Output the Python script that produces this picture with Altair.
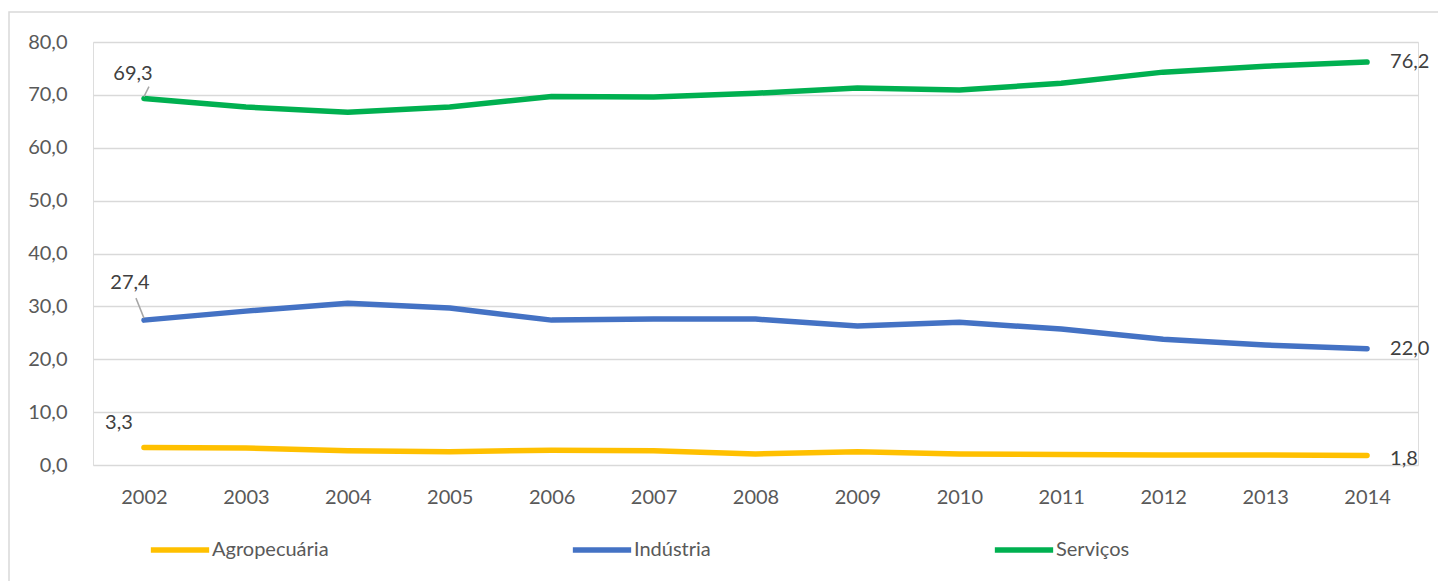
import altair as alt
import pandas as pd

years = [str(y) for y in range(2002, 2015)]
agro = [3.3, 3.2, 2.7, 2.5, 2.8, 2.7, 2.1, 2.5, 2.1, 2.0, 1.9, 1.9, 1.8]
industria = [27.4, 29.1, 30.6, 29.7, 27.4, 27.6, 27.6, 26.3, 27.0, 25.7, 23.8, 22.7, 22.0]
servicos = [69.3, 67.7, 66.7, 67.7, 69.7, 69.6, 70.3, 71.3, 70.9, 72.2, 74.3, 75.4, 76.2]
series = ["Agropecuária", "Indústria", "Serviços"]
colors = ["#FFC000", "#4472C4", "#00B050"]

rows = []
for name, vals in zip(series, [agro, industria, servicos]):
    for y, v in zip(years, vals):
        rows.append({"ano": y, "setor": name, "valor": v})
df = pd.DataFrame(rows)
df["rotulo"] = df["valor"].map(lambda v: f"{v:.1f}".replace(".", ","))

FONT = "Lato"
W, H = 1325, 423

xenc = alt.X("ano:O", scale=alt.Scale(type="point", padding=0.5),
             axis=alt.Axis(title=None, labelAngle=0, domain=False, ticks=False,
                           labelPadding=22, labelFontSize=20, labelColor="#595959",
                           labelFont=FONT, grid=False))
yenc = alt.Y("valor:Q", scale=alt.Scale(domain=[0, 80], nice=False),
             axis=alt.Axis(title=None, values=list(range(0, 81, 10)), domain=False, ticks=False,
                           labelPadding=26, labelFontSize=20, labelColor="#595959", labelFont=FONT,
                           labelExpr="replace(format(datum.value, '.1f'), '.', ',')",
                           gridColor="#D9D9D9", gridWidth=1.5))

base = alt.Chart(df)

frame = alt.Chart(pd.DataFrame({"a": [0]})).mark_rect(
    fill=None, stroke="#D9D9D9", strokeWidth=1.5
).encode(x=alt.value(-84), x2=alt.value(1350), y=alt.value(-30), y2=alt.value(545))

lines = base.mark_line(strokeWidth=5.5, strokeCap="round", strokeJoin="round").encode(
    x=xenc, y=yenc,
    color=alt.Color("setor:N", scale=alt.Scale(domain=series, range=colors),
                    legend=alt.Legend(title=None, orient="none", legendX=55, legendY=476,
                                      direction="horizontal", columns=3, gridAlign="all",
                                      columnPadding=232, symbolType="stroke",
                                      symbolSize=3400, symbolStrokeWidth=5.5,
                                      labelFontSize=20, labelFont=FONT, labelColor="#595959",
                                      labelOffset=0, labelLimit=300)),
)

def lbl(setor, ano, dx, dy, align="center"):
    return base.transform_filter(
        (alt.datum.setor == setor) & (alt.datum.ano == ano)
    ).mark_text(dx=dx, dy=dy, align=align, baseline="middle", fontSize=20,
                font=FONT, color="#404040").encode(x="ano:O", y="valor:Q", text="rotulo:N")

def leader(setor, ano, xo, yo):
    return base.transform_filter(
        (alt.datum.setor == setor) & (alt.datum.ano == ano)
    ).mark_rule(color="#A6A6A6", strokeWidth=1.5, xOffset=xo, yOffset=yo,
                x2Offset=0, y2Offset=-2).encode(x="ano:O", x2="ano:O", y="valor:Q", y2="valor:Q")

labels = [
    lbl("Serviços", "2002", -11, -25),
    lbl("Indústria", "2002", -14, -37),
    lbl("Agropecuária", "2002", -25, -25),
    lbl("Serviços", "2014", 23, 0, "left"),
    lbl("Indústria", "2014", 23, 0, "left"),
    lbl("Agropecuária", "2014", 23, 4, "left"),
    leader("Serviços", "2002", 5, -12),
    leader("Indústria", "2002", -8, -22),
]

chart = alt.layer(frame, lines, *labels).properties(
    width=W, height=H,
    autosize=alt.AutoSizeParams(type="none"),
    padding={"left": 93, "top": 42, "right": 20, "bottom": 116},
).configure_view(stroke=None).configure(background="white")

chart.save("out.html", embed_options={"renderer": "svg", "actions": False})
